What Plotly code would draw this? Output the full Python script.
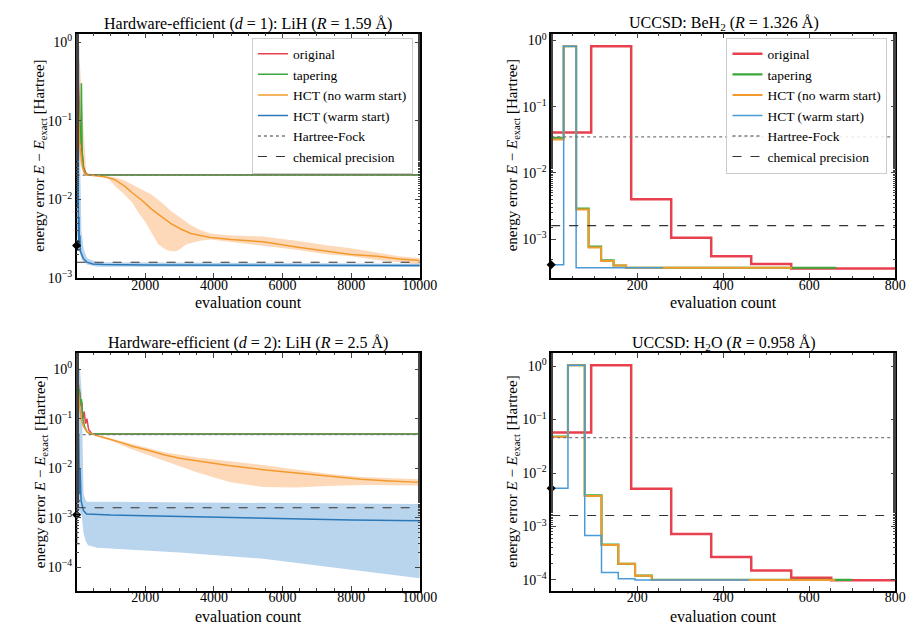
import plotly.graph_objects as go

# ---------------- shared levels ----------------
chem_precision = 0.0016

# ---------------- Panel A: Hardware-efficient (d=1): LiH (R=1.59 Å) ----------------
a_hf = 0.0205
a_red_x = [0, 10, 20, 35, 50, 70, 90, 120, 160, 200, 260, 320, 10000]
a_red_y = [1.0, 0.85, 0.6, 0.4, 0.3, 0.15, 0.1, 0.06, 0.035, 0.026, 0.022, 0.0207, 0.0207]
a_green_x = [0, 10, 25, 40, 60, 80, 100, 125, 140, 160, 200, 260, 320, 10000]
a_green_y = [0.95, 0.7, 0.45, 0.25, 0.12, 0.08, 0.05, 0.06, 0.3, 0.04, 0.025, 0.021, 0.0205, 0.0205]
a_orange_x = [0, 10, 25, 40, 60, 80, 100, 130, 170, 220, 300, 500, 800, 1100, 1400, 1620, 1900,
              2190, 2500, 2760, 3050, 3330, 3600, 3900, 4500, 5430, 6400, 7330, 8000, 8760, 9400, 10000]
a_orange_y = [0.9, 0.6, 0.35, 0.2, 0.1, 0.06, 0.045, 0.032, 0.026, 0.022, 0.0205, 0.0202, 0.0195,
              0.018, 0.0148, 0.0122, 0.0098, 0.0075, 0.0059, 0.0049, 0.0042, 0.0037, 0.0035, 0.0033,
              0.0031, 0.0029, 0.0025, 0.0022, 0.002, 0.0019, 0.00175, 0.00168]
a_orange_up_x = [0, 100, 200, 280, 600, 900, 1140, 1400, 1620, 1900, 2190, 2500, 2760, 3050, 3330,
                 3600, 3900, 4500, 5430, 6400, 7330, 8000, 8760, 9400, 10000]
a_orange_up_y = [1.0, 0.5, 0.08, 0.022, 0.0205, 0.02, 0.019, 0.0175, 0.0155, 0.0135, 0.0115, 0.009,
                 0.0071, 0.0058, 0.0047, 0.0041, 0.0037, 0.0035, 0.0034, 0.003, 0.0026, 0.0024,
                 0.0021, 0.0019, 0.0018]
a_orange_lo_x = [0, 50, 100, 200, 280, 600, 900, 1140, 1400, 1620, 1800, 2000, 2200, 2380, 2600,
                 2760, 2900, 3050, 3200, 3330, 3600, 3900, 4500, 5430, 6400, 7330, 8000, 8760, 9400, 10000]
a_orange_lo_y = [0.3, 0.05, 0.03, 0.021, 0.0203, 0.0198, 0.019, 0.0146, 0.0115, 0.0092, 0.0068,
                 0.0052, 0.0037, 0.0027, 0.0023, 0.0022, 0.0022, 0.0024, 0.0027, 0.0028, 0.003,
                 0.0031, 0.0029, 0.0026, 0.0023, 0.002, 0.0019, 0.0017, 0.0016, 0.0015]
a_blue_x = [0, 5, 10, 15, 20, 25, 30, 40, 50, 60, 70, 80, 95, 110, 150, 190, 300, 470, 800, 2000,
            5000, 10000]
a_blue_y = [0.9, 0.15, 0.5, 0.03, 0.3, 0.008, 0.1, 0.004, 0.02, 0.003, 0.006, 0.0026, 0.0035, 0.0022,
            0.002, 0.0018, 0.0016, 0.00152, 0.00149, 0.00147, 0.00146, 0.00145]
a_blue_up_x = [0, 80, 110, 140, 200, 300, 600, 10000]
a_blue_up_y = [1.0, 0.9, 0.02, 0.004, 0.0024, 0.0018, 0.0016, 0.00153]
a_blue_lo_x = [0, 60, 150, 300, 600, 10000]
a_blue_lo_y = [0.004, 0.0024, 0.0017, 0.0015, 0.0014, 0.00139]
a_init = 0.0026
a_init_err = [0.0003, 0.0003]

# ---------------- Panel B: UCCSD: BeH2 (R=1.326 Å) ----------------
b_hf = 0.035
b_red_edges = [0, 93, 186, 279, 372, 465, 558]
b_red_vals = [0.041, 0.82, 0.004, 0.00105, 0.00055, 0.00042, 0.00036]
b_red_end = 800
b_green_edges = [0, 29, 58, 87, 116, 145, 174]
b_green_vals = [0.034, 0.82, 0.0029, 0.00077, 0.00048, 0.0004, 0.00037]
b_green_end = 663
b_orange_edges = [0, 29, 58, 87, 116, 145, 174]
b_orange_vals = [0.032, 0.82, 0.0028, 0.00075, 0.00047, 0.0004, 0.00037]
b_orange_end = 560
b_blue_edges = [0, 29, 58]
b_blue_vals = [0.00041, 0.82, 0.00037]
b_blue_end = 260
b_init = 0.00041

# ---------------- Panel C: Hardware-efficient (d=2): LiH (R=2.5 Å) ----------------
c_hf = 0.048
c_red_x = [0, 15, 30, 50, 70, 90, 120, 150, 180, 220, 260, 300, 350, 400, 450, 10000]
c_red_y = [1.1, 0.7, 0.45, 0.5, 0.3, 0.35, 0.18, 0.22, 0.1, 0.14, 0.08, 0.1, 0.06, 0.055, 0.049, 0.049]
c_green_x = [0, 10, 25, 40, 60, 80, 110, 140, 180, 230, 300, 400, 10000]
c_green_y = [1.2, 0.9, 0.5, 0.7, 0.35, 0.4, 0.2, 0.25, 0.1, 0.07, 0.055, 0.049, 0.049]
c_orange_x = [0, 20, 40, 70, 100, 150, 200, 300, 450, 660, 1000, 1300, 1620, 2000, 2570, 3000,
              3520, 4000, 4480, 5430, 6380, 7330, 8290, 9000, 10000]
c_orange_y = [1.0, 0.6, 0.4, 0.25, 0.15, 0.09, 0.07, 0.055, 0.049, 0.044, 0.038, 0.033, 0.028,
              0.024, 0.0186, 0.016, 0.014, 0.0125, 0.0112, 0.0094, 0.0081, 0.0071, 0.006, 0.0056, 0.0052]
c_orange_up_x = [450, 660, 1000, 1620, 2570, 3520, 4480, 5430, 6380, 7330, 8290, 10000]
c_orange_up_y = [0.05, 0.046, 0.04, 0.031, 0.021, 0.0165, 0.014, 0.0116, 0.0095, 0.0078, 0.0067, 0.006]
c_orange_lo_x = [450, 660, 1000, 1620, 2570, 3520, 4480, 5430, 6380, 7330, 8290, 10000]
c_orange_lo_y = [0.048, 0.042, 0.036, 0.024, 0.014, 0.0082, 0.0052, 0.0042, 0.0041, 0.0044, 0.0046, 0.0045]
c_blue_x = [0, 10, 20, 30, 40, 50, 60, 80, 100, 130, 160, 200, 290, 500, 1000, 2000, 4000, 6000,
            8000, 10000]
c_blue_y = [1.0, 0.1, 0.6, 0.02, 0.3, 0.005, 0.05, 0.003, 0.01, 0.0022, 0.0018, 0.0014, 0.0012,
            0.00118, 0.00114, 0.0011, 0.00102, 0.00096, 0.0009, 0.00087]
c_blue_up_x = [0, 100, 150, 200, 260, 300, 1000, 5000, 10000]
c_blue_up_y = [1.2, 1.0, 0.3, 0.003, 0.0023, 0.0021, 0.0021, 0.002, 0.0019]
c_blue_lo_x = [0, 100, 150, 180, 200, 260, 330, 600, 1620, 3000, 5430, 8290, 10000]
c_blue_lo_y = [0.0014, 0.0013, 0.0011, 0.0008, 0.0005, 0.00035, 0.00028, 0.00025, 0.00023,
               0.0002, 0.00015, 0.000085, 0.00006]
c_init = 0.00115
c_init_err = [0.00105, 0.00085]

# ---------------- Panel D: UCCSD: H2O (R=0.958 Å) ----------------
d_hf = 0.046
d_red_edges = [0, 93, 186, 279, 372, 465, 558, 651]
d_red_vals = [0.057, 1.04, 0.0051, 0.00072, 0.00027, 0.00015, 0.00011, 0.0000985]
d_red_end = 800
d_green_edges = [0, 39, 78, 117, 156, 195, 234]
d_green_vals = [0.048, 1.04, 0.0038, 0.00046, 0.0002, 0.00012, 0.0001]
d_green_end = 700
d_orange_edges = [0, 39, 78, 117, 156, 195, 234]
d_orange_vals = [0.047, 1.04, 0.0037, 0.00045, 0.0002, 0.00012, 0.0001]
d_orange_end = 660
d_blue_edges = [0, 39, 78, 117, 156, 195]
d_blue_vals = [0.0052, 1.04, 0.00068, 0.000138, 0.000105, 0.0001]
d_blue_end = 460
d_init = 0.0052

series_names = ["original", "tapering", "HCT (no warm start)", "HCT (warm start)",
                "Hartree-Fock", "chemical precision"]

# ---------------- styling ----------------
RED = "#e8404f"
GREEN = "#3aa83a"
ORANGE = "#f39a2e"
BLUE = "#2a78b8"
BLUE_STEP = "#4a9ad6"
ORANGE_FILL = "rgba(250,170,100,0.45)"
BLUE_FILL = "rgba(100,160,215,0.45)"
FONT = "Liberation Serif, DejaVu Serif, serif"

W, H = 922, 627
def px_x(p): return p / W
def px_y(p): return 1 - p / H

fig = go.Figure()

def line(xs, ys, color, width, ax, name=None, legend=None, dash="solid", rank=None, shape="linear"):
    fig.add_trace(go.Scatter(
        x=xs, y=ys, mode="lines", line=dict(color=color, width=width, dash=dash, shape=shape),
        xaxis=ax[0], yaxis=ax[1], name=name, showlegend=legend is not None,
        legend=legend if legend else "legend", legendrank=rank if rank else 1000,
        hoverinfo="skip"))

def band(ux, uy, lx, ly, fillcolor, ax):
    fig.add_trace(go.Scatter(
        x=list(ux) + list(lx)[::-1], y=list(uy) + list(ly)[::-1], mode="lines",
        line=dict(width=0), fill="toself", fillcolor=fillcolor,
        xaxis=ax[0], yaxis=ax[1], showlegend=False, hoverinfo="skip"))

def steps(edges, vals, end, color, width, ax, name=None, legend=None, rank=None):
    xs = list(edges) + [end]
    ys = list(vals) + [vals[-1]]
    line(xs, ys, color, width, ax, name, legend, rank=rank, shape="hv")

def marker(y, ax, err=None):
    kw = {}
    if err:
        kw["error_y"] = dict(type="data", symmetric=False, array=[err[0]], arrayminus=[err[1]],
                             color="black", thickness=1.2, width=3)
    fig.add_trace(go.Scatter(x=[0], y=[y], mode="markers",
                             marker=dict(symbol="diamond", size=7, color="black"),
                             xaxis=ax[0], yaxis=ax[1], showlegend=False, cliponaxis=False,
                             hoverinfo="skip", **kw))

A = ("x", "y"); B = ("x2", "y2"); C = ("x3", "y3"); D = ("x4", "y4")

# Panel A
band(a_orange_up_x, a_orange_up_y, a_orange_lo_x, a_orange_lo_y, ORANGE_FILL, A)
band(a_blue_up_x, a_blue_up_y, a_blue_lo_x, a_blue_lo_y, BLUE_FILL, A)
line(a_red_x, a_red_y, RED, 1.5, A, series_names[0], "legend", rank=1)
line(a_green_x, a_green_y, GREEN, 1.5, A, series_names[1], "legend", rank=2)
line(a_orange_x, a_orange_y, ORANGE, 1.5, A, series_names[2], "legend", rank=3)
line(a_blue_x, a_blue_y, BLUE, 1.5, A, series_names[3], "legend", rank=4)
line([0, 10000], [a_hf, a_hf], "#7a7a7a", 1.3, A, series_names[4], "legend", dash="dot", rank=5)
line([0, 10000], [chem_precision, chem_precision], "#333333", 1.1, A, series_names[5], "legend",
     dash="dash", rank=6)
marker(a_init, A, a_init_err)

# Panel B
steps(b_red_edges, b_red_vals, b_red_end, RED, 2.5, B, series_names[0], "legend2", rank=1)
steps(b_green_edges, b_green_vals, b_green_end, GREEN, 2.2, B, series_names[1], "legend2", rank=2)
steps(b_orange_edges, b_orange_vals, b_orange_end, ORANGE, 2.0, B, series_names[2], "legend2", rank=3)
steps(b_blue_edges, b_blue_vals, b_blue_end, BLUE_STEP, 1.5, B, series_names[3], "legend2", rank=4)
line([0, 800], [b_hf, b_hf], "#7a7a7a", 1.3, B, series_names[4], "legend2", dash="dot", rank=5)
line([0, 800], [chem_precision, chem_precision], "#333333", 1.1, B, series_names[5], "legend2",
     dash="dash", rank=6)
marker(b_init, B)

# Panel C
band(c_orange_up_x, c_orange_up_y, c_orange_lo_x, c_orange_lo_y, ORANGE_FILL, C)
band(c_blue_up_x, c_blue_up_y, c_blue_lo_x, c_blue_lo_y, BLUE_FILL, C)
line(c_red_x, c_red_y, RED, 1.5, C)
line(c_green_x, c_green_y, GREEN, 1.5, C)
line(c_orange_x, c_orange_y, ORANGE, 1.5, C)
line(c_blue_x, c_blue_y, BLUE, 1.5, C)
line([0, 10000], [c_hf, c_hf], "#7a7a7a", 1.3, C, dash="dot")
line([0, 10000], [chem_precision, chem_precision], "#333333", 1.1, C, dash="dash")
marker(c_init, C, c_init_err)

# Panel D
steps(d_red_edges, d_red_vals, d_red_end, RED, 2.5, D)
steps(d_green_edges, d_green_vals, d_green_end, GREEN, 2.2, D)
steps(d_orange_edges, d_orange_vals, d_orange_end, ORANGE, 2.0, D)
steps(d_blue_edges, d_blue_vals, d_blue_end, BLUE_STEP, 1.5, D)
line([0, 800], [d_hf, d_hf], "#7a7a7a", 1.3, D, dash="dot")
line([0, 800], [chem_precision, chem_precision], "#333333", 1.1, D, dash="dash")
marker(d_init, D)

# ---------------- axes ----------------
sup = {0: "0", -1: "−1", -2: "−2", -3: "−3", -4: "−4"}
def ylog(exps, rng, dom):
    return dict(type="log", range=rng, domain=dom,
                tickvals=[10.0 ** e for e in exps], ticktext=[f"10<sup>{sup[e]}</sup>" for e in exps],
                ticks="inside", ticklen=5, tickwidth=1, showline=True, linecolor="black", linewidth=1.5,
                mirror="allticks", showgrid=False, zeroline=False,
                minor=dict(ticks="inside", ticklen=2.5, tickwidth=0.8, showgrid=False),
                tickfont=dict(family=FONT, size=14, color="black"))

def xlin(rng, tv, dom, anchor, minor_dt):
    return dict(range=rng, domain=dom, anchor=anchor, tickvals=tv, ticktext=[str(v) for v in tv],
                ticks="inside", ticklen=5, tickwidth=1, showline=True, linecolor="black", linewidth=1.5,
                mirror="allticks", showgrid=False, zeroline=False, ticklabelstandoff=-7,
                minor=dict(ticks="inside", ticklen=2.5, tickwidth=0.8, dtick=minor_dt, showgrid=False),
                tickfont=dict(family=FONT, size=14, color="black"))

xl = [px_x(70), px_x(420)]
xr = [px_x(554), px_x(905)]
yt = [px_y(272), px_y(23)]
yb = [px_y(590), px_y(348)]

fig.update_layout(
    width=W, height=H, margin=dict(l=0, r=0, t=0, b=0),
    paper_bgcolor="white", plot_bgcolor="white",
    font=dict(family=FONT, size=13, color="black"),
    xaxis=xlin([0, 10000], [2000, 4000, 6000, 8000, 10000], xl, "y", 500),
    yaxis=dict(ylog([0, -1, -2, -3], [-3.0, 0.11], yt), anchor="x"),
    xaxis2=xlin([0, 800], [200, 400, 600, 800], xr, "y2", 50),
    yaxis2=dict(ylog([0, -1, -2, -3], [-3.59, 0.105], yt), anchor="x2"),
    xaxis3=xlin([0, 10000], [2000, 4000, 6000, 8000, 10000], xl, "y3", 500),
    yaxis3=dict(ylog([0, -1, -2, -3, -4], [-4.47, 0.33], yb), anchor="x3"),
    xaxis4=xlin([0, 800], [200, 400, 600, 800], xr, "y4", 50),
    yaxis4=dict(ylog([0, -1, -2, -3, -4], [-4.2, 0.246], [px_y(590), px_y(348)]), anchor="x4"),
    legend=dict(x=px_x(413), y=px_y(27), xanchor="right", yanchor="top",
                bgcolor="rgba(255,255,255,0.85)", bordercolor="#cccccc", borderwidth=1,
                font=dict(family=FONT, size=13.5), tracegroupgap=0),
    legend2=dict(x=px_x(897), y=px_y(27), xanchor="right", yanchor="top",
                 bgcolor="rgba(255,255,255,0.85)", bordercolor="#cccccc", borderwidth=1,
                 font=dict(family=FONT, size=13.5), tracegroupgap=0),
    showlegend=True,
)

# ---------------- titles & labels ----------------
ann = []
titles = [
    ("Hardware-efficient (<i>d</i> = 1): LiH (<i>R</i> = 1.59 Å)", 245, 13),
    ("UCCSD: BeH<sub>2</sub> (<i>R</i> = 1.326 Å)", 730, 13),
    ("Hardware-efficient (<i>d</i> = 2): LiH (<i>R</i> = 2.5 Å)", 245, 338),
    ("UCCSD: H<sub>2</sub>O (<i>R</i> = 0.958 Å)", 730, 338),
]
for t, cx, cy in titles:
    ann.append(dict(text=t, x=px_x(cx), y=px_y(cy), xref="paper", yref="paper", showarrow=False,
                    xanchor="center", yanchor="middle", font=dict(family=FONT, size=16)))
for cx, cy in [(245, 297), (730, 297), (245, 616), (730, 616)]:
    ann.append(dict(text="evaluation count", x=px_x(cx), y=px_y(cy), xref="paper", yref="paper",
                    showarrow=False, xanchor="center", yanchor="middle", font=dict(family=FONT, size=16)))
ylab = "energy error <i>E</i> − <i>E</i><sub>exact</sub> [Hartree]"
for cx, cy in [(33, 147), (515, 147), (33, 469), (515, 469)]:
    ann.append(dict(text=ylab, x=px_x(cx), y=px_y(cy), xref="paper", yref="paper", showarrow=False,
                    textangle=-90, xanchor="center", yanchor="middle", font=dict(family=FONT, size=15)))
fig.update_layout(annotations=ann)

fig.write_html("out.html")
